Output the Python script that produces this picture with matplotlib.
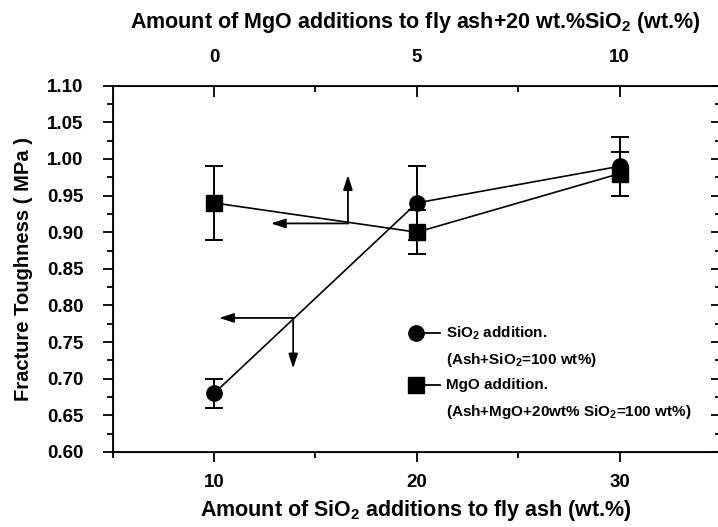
"""Fracture toughness of fly-ash bodies vs SiO2 and MgO additions.

Bottom axis: SiO2 added to fly ash (wt.%). Top axis: MgO added to
fly ash + 20 wt.% SiO2 (wt.%). Error bars are the scatter of repeat tests.
"""
import numpy as np
import matplotlib
matplotlib.use("Agg")
import matplotlib.pyplot as plt
from matplotlib.lines import Line2D

plt.rcParams["font.family"] = ["Liberation Sans", "DejaVu Sans"]
plt.rcParams["font.weight"] = "bold"
plt.rcParams["mathtext.fontset"] = "custom"
plt.rcParams["mathtext.bf"] = "Liberation Sans:bold"
plt.rcParams["mathtext.rm"] = "Liberation Sans:bold"
plt.rcParams["mathtext.default"] = "bf"

# SiO2 series (bottom axis)
sio2_x = [10, 20, 30]
sio2_k = [0.68, 0.94, 0.99]
sio2_err = [0.02, 0.05, 0.04]

# MgO series, plotted at the same positions (top axis 0, 5, 10 wt.%)
mgo_x = [10, 20, 30]
mgo_k = [0.94, 0.90, 0.98]
mgo_err = [0.05, 0.03, 0.03]
mgo_labels = ["0", "5", "10"]

# arrows telling which axis each curve belongs to: (corner, vertical tip, horizontal tip)
mgo_arrow = ((16.6, 0.912), 0.978, 12.8)
sio2_arrow = ((13.9, 0.783), 0.714, 10.25)

W, H = 718, 527
fig = plt.figure(figsize=(W / 100, H / 100), dpi=100)
ax = fig.add_axes([112.7 / W, 1 - 452 / H, 1 - 112.7 / W, (452 - 85.7) / H])

eb = dict(color="k", lw=1.2, ms=11, capsize=6.5, elinewidth=1.4, capthick=1.4)
ax.errorbar(sio2_x, sio2_k, yerr=sio2_err, marker="o", **eb)
ax.errorbar(mgo_x, mgo_k, yerr=mgo_err, marker="s", **eb)

yt = np.arange(0.60, 1.101, 0.05)
ax.set_xlim(5, 34.85)
ax.set_ylim(0.60, 1.10)
ax.set_xticks([10, 20, 30])
ax.set_xticks([5, 15, 25], minor=True)
ax.set_yticks(yt, [f"{v:.2f}" for v in yt])
ax.set_yticks(np.arange(0.625, 1.1, 0.05), minor=True)
ax.tick_params(axis="both", which="major", labelsize=13.5, width=1.3, length=7,
               direction="out")
ax.tick_params(axis="both", which="minor", width=1.3, length=4, direction="out")
ax.tick_params(axis="x", pad=9)
ax.tick_params(axis="y", pad=14)
for s in ["left", "bottom", "top"]:
    ax.spines[s].set_linewidth(1.3)
ax.spines["right"].set_visible(False)

ax.set_xlabel("Amount of SiO$_2$ additions to fly ash (wt.%)", fontsize=15.5,
              fontweight="bold", labelpad=5)
ax.set_ylabel("Fracture Toughness ( MPa )", fontsize=14.5, fontweight="bold",
              labelpad=10)

# right edge: inward ticks only, no line
right = ax.secondary_yaxis("right")
right.set_yticks(yt, [])
right.set_yticks(np.arange(0.625, 1.1, 0.05), minor=True)
right.tick_params(which="major", direction="in", length=5, width=1.3)
right.tick_params(which="minor", direction="in", length=2, width=1.3)
right.spines["right"].set_visible(False)

top = ax.twiny()
top.set_xlim(ax.get_xlim())
top.set_xticks(mgo_x, mgo_labels)
top.set_xticks([15, 25], minor=True)
top.tick_params(axis="x", which="major", direction="in", length=8, width=1.3,
                labelsize=13.5, pad=14)
top.tick_params(axis="x", which="minor", direction="in", length=4, width=1.3)
top.spines["right"].set_visible(False)
top.set_xlabel("Amount of MgO additions to fly ash+20 wt.%SiO$_2$ (wt.%)",
               fontsize=15.5, fontweight="bold", labelpad=15)

arrow_kw = dict(arrowstyle="-|>,head_length=0.62,head_width=0.2", lw=1.3,
                color="k", mutation_scale=14, shrinkA=0, shrinkB=0)
for (cx, cy), ytip, xtip in (mgo_arrow, sio2_arrow):
    ax.annotate("", xy=(cx, ytip), xytext=(cx, cy), arrowprops=arrow_kw)
    ax.annotate("", xy=(xtip, cy), xytext=(cx, cy), arrowprops=arrow_kw)

# key, drawn by hand so the marker sits at the start of its line
def axfrac(px, py):
    return (px - 112.7) / (718 - 112.7), (452 - py) / (452 - 85.7)

for mk, py, lines in (("o", 333, ["SiO$_2$ addition.", "(Ash+SiO$_2$=100 wt%)"]),
                      ("s", 385, ["MgO addition.", "(Ash+MgO+20wt% SiO$_2$=100 wt%)"])):
    x0, y0 = axfrac(416, py)
    x1, _ = axfrac(440, py)
    ax.add_line(Line2D([x0, x1], [y0, y0], color="k", lw=1.3,
                       transform=ax.transAxes, clip_on=False))
    ax.plot([x0], [y0], marker=mk, ms=11, color="k", transform=ax.transAxes,
            clip_on=False)
    tx, ty = axfrac(446, py)
    ax.text(tx, ty, lines[0], transform=ax.transAxes, fontsize=11,
            fontweight="bold", va="center", ha="left")
    tx, ty = axfrac(446, py + 27)
    ax.text(tx, ty, lines[1], transform=ax.transAxes, fontsize=11,
            fontweight="bold", va="center", ha="left")

fig.savefig("out.png", dpi=100)
